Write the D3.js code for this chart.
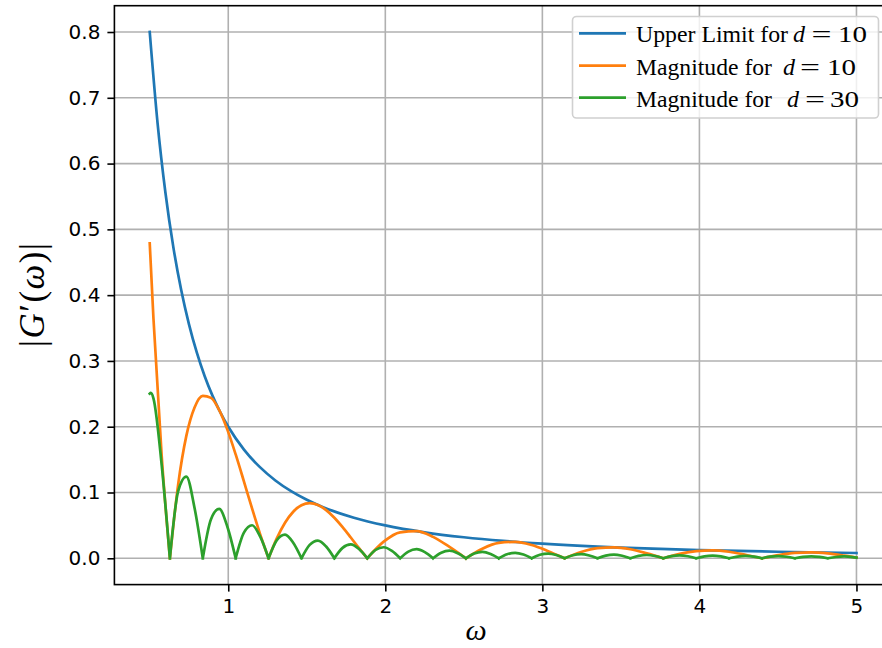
<!DOCTYPE html>
<html><head><meta charset="utf-8">
<script src="https://cdn.jsdelivr.net/npm/d3@7"></script>
<style>body{margin:0;background:#fff} text{white-space:pre}</style>
</head><body>
<svg id="c" width="882" height="648"></svg>
<script>
// ---- data ----
const xTicks = [1, 2, 3, 4, 5];
const yTicks = [0.0, 0.1, 0.2, 0.3, 0.4, 0.5, 0.6, 0.7, 0.8];
const seriesLabels = [
  ["Upper Limit for", "d", "=", "10"],
  ["Magnitude for", "d", "=", "10"],
  ["Magnitude for", "d", "=", "30"]
];
const seriesColors = ["#1f77b4", "#ff7f0e", "#2ca02c"];

const upperX = [0.5,0.55,0.6,0.65,0.7,0.75,0.8,0.85,0.9,0.95,1.0,1.1,1.2,1.3,1.4,1.5,1.6,1.8,2.0,2.25,2.5,2.75,3.0,3.5,4.0,4.5,5.0];
const upperY = [0.8,0.6612,0.5556,0.4734,0.4082,0.3556,0.3125,0.2768,0.2469,0.2216,0.2,0.1653,0.1389,0.1183,0.1020,0.0889,0.0781,0.0617,0.05,0.0395,0.032,0.0264,0.0222,0.0163,0.0125,0.0099,0.008];

const mag10X = [0.5,0.5236,0.5760,0.6283,0.6807,0.7330,0.7854,0.8378,0.8901,0.9425,0.9948,1.0472,1.0996,1.1519,1.2043,1.2566,
  1.3090,1.3614,1.4137,1.4661,1.5184,1.5708,1.6232,1.6755,1.7279,1.7802,1.8326,1.8850,
  1.9897,2.0944,2.1991,2.3038,2.4086,2.5133,2.6180,2.7227,2.8274,2.9322,3.0369,3.1416,
  3.2463,3.3510,3.4558,3.5605,3.6652,3.7699,3.8746,3.9794,4.0841,4.1888,4.2935,4.3982,
  4.5029,4.6077,4.7124,4.8171,4.9218,5.0];
const mag10Y = [0.4788,0.3648,0.1560,0,0.1117,0.1861,0.2293,0.2468,0.2438,0.2252,0.1952,0.1579,0.1170,0.0754,0.0357,0,
  0.0302,0.0540,0.0708,0.0806,0.0838,0.0811,0.0733,0.0617,0.0474,0.0316,0.0154,0,
  0.0253,0.0395,0.0414,0.0326,0.0172,0,0.0146,0.0234,0.0250,0.0201,0.0108,0,
  0.0095,0.0154,0.0167,0.0137,0.0074,0,0.0067,0.0109,0.0120,0.0099,0.0054,0,
  0.0049,0.0082,0.0090,0.0075,0.0041,0.0011];

const mag30X = [0.5,0.507,0.5236,0.5760,0.6283,0.6807,0.7330,0.7854,0.8378,0.8901,0.9425,0.9948,1.0472,1.0996,1.1519,1.2043,1.2566,
  1.3090,1.3614,1.4137,1.4661,1.5184,1.5708,1.6232,1.6755,1.7279,1.7802,1.8326,1.8850,1.9373,1.9897,2.0420,2.0944,
  2.1468,2.1991,2.2515,2.3038,2.3562,2.4086,2.4609,2.5133,2.5656,2.6180,2.6704,2.7227,2.7751,2.8274,2.8798,2.9322,
  2.9845,3.0369,3.0892,3.1416,3.1940,3.2463,3.2987,3.3510,3.4034,3.4558,3.5081,3.5605,3.6128,3.6652,3.7176,3.7699,
  3.8223,3.8746,3.9270,3.9794,4.0317,4.0841,4.1364,4.1888,4.2412,4.2935,4.3459,4.3982,4.4506,4.5029,4.5553,4.6077,
  4.6600,4.7124,4.7648,4.8171,4.8695,4.9218,4.9742,5.0];
const mag30Y = [0.2502,0.2514,0.2432,0.1421,0,0.1017,0.1241,0.0764,0,0.0595,0.0751,0.0476,0,0.0390,0.0502,0.0325,0,
  0.0275,0.0360,0.0236,0,0.0204,0.0270,0.0179,0,0.0158,0.0210,0.0140,0,0.0126,0.0168,0.0113,0,
  0.0102,0.0138,0.0093,0,0.0085,0.0115,0.0078,0,0.0072,0.0097,0.0066,0,0.0061,0.0083,0.0057,0,
  0.0053,0.0072,0.0049,0,0.0046,0.0063,0.0043,0,0.0041,0.0056,0.0038,0,0.0036,0.0050,0.0034,0,
  0.0032,0.0044,0.0031,0,0.0029,0.0040,0.0028,0,0.0026,0.0036,0.0025,0,0.0024,0.0033,0.0023,0,
  0.0022,0.0030,0.0021,0,0.0020,0.0028,0.0019,0.0010];

// ---- layout ----
const svg = d3.select("#c");
const L = 114.4, R = 891.8, T = 5.7, B = 584.6;
const x = d3.scaleLinear().domain([0.275, 5.225]).range([L, R]);
const y = d3.scaleLinear().domain([-0.04, 0.84]).range([B, T]);

svg.append("defs").append("clipPath").attr("id","clip")
  .append("rect").attr("x",L).attr("y",T).attr("width",R-L).attr("height",B-T);

// grid
const grid = svg.append("g");
grid.selectAll("line.gx").data(xTicks).join("line").attr("class","gx")
  .attr("x1",d=>x(d)).attr("x2",d=>x(d)).attr("y1",T).attr("y2",B)
  .attr("stroke","#b0b0b0").attr("stroke-width",1.6);
grid.selectAll("line.gy").data(yTicks).join("line").attr("class","gy")
  .attr("y1",d=>y(d)).attr("y2",d=>y(d)).attr("x1",L).attr("x2",R)
  .attr("stroke","#b0b0b0").attr("stroke-width",1.6);

// lines
function segments(xs, ys) {
  const segs = []; let cur = [];
  xs.forEach((xv, i) => {
    cur.push([xv, ys[i]]);
    if (ys[i] === 0 && i > 0) { segs.push(cur); cur = [[xv, ys[i]]]; }
  });
  if (cur.length > 1) segs.push(cur);
  return segs;
}
const line = d3.line().x(d=>x(d[0])).y(d=>y(d[1])).curve(d3.curveMonotoneX);
const plot = svg.append("g").attr("clip-path","url(#clip)");
const series = [[upperX, upperY], [mag10X, mag10Y], [mag30X, mag30Y]];
series.forEach(([xs, ys], k) => {
  plot.append("path").attr("d", segments(xs, ys).map(s => line(s)).join(""))
    .attr("fill","none").attr("stroke",seriesColors[k]).attr("stroke-width",2.7)
    .attr("stroke-linejoin","round").attr("stroke-linecap","square");
});

// axes
const xAxis = d3.axisBottom(x).tickValues(xTicks).tickFormat(d3.format("d")).tickSize(7).tickPadding(7);
const yAxis = d3.axisLeft(y).tickValues(yTicks).tickFormat(d3.format(".1f")).tickSize(7).tickPadding(7);
const gx = svg.append("g").attr("transform",`translate(0,${B})`).call(xAxis);
const gy = svg.append("g").attr("transform",`translate(${L},0)`).call(yAxis);
[gx, gy].forEach(g => {
  g.select(".domain").remove();
  g.selectAll(".tick line").attr("stroke","#000").attr("stroke-width",1.6);
  g.selectAll(".tick text").attr("fill","#000").style("font-family","DejaVu Sans").style("font-size","20px");
});
// spines
svg.append("rect").attr("x",L).attr("y",T).attr("width",R-L).attr("height",B-T)
  .attr("fill","none").attr("stroke","#000").attr("stroke-width",1.6);

// axis labels
svg.append("text").attr("x",476).attr("y",640).attr("text-anchor","middle")
  .style("font-family","Liberation Serif").style("font-size","30px").style("font-style","italic").text("ω");
const yl = svg.append("text").attr("transform","translate(44,295) rotate(-90)").attr("text-anchor","middle")
  .attr("textLength",104).attr("lengthAdjust","spacing")
  .style("font-family","Liberation Serif").style("font-size","35px");
yl.append("tspan").text("|");
yl.append("tspan").style("font-style","italic").text("G");
yl.append("tspan").text("′(");
yl.append("tspan").style("font-style","italic").text("ω");
yl.append("tspan").text(")|");

// legend
const lg = svg.append("g");
lg.append("rect").attr("x",572.5).attr("y",16.5).attr("width",306).attr("height",101.5).attr("rx",4)
  .attr("fill","#fff").attr("fill-opacity",0.8).attr("stroke","#d0d0d0").attr("stroke-width",1.6);
const rowY = [33.3, 65.7, 97.7];
// horizontal text anchors per row: [word start, d, "=", number]
const rowXs = [[636, 793, 811.5, 838], [636, 783, 800, 827], [636, 787, 805, 830]];
seriesLabels.forEach((lab, k) => {
  lg.append("line").attr("x1",579).attr("x2",626).attr("y1",rowY[k]).attr("y2",rowY[k])
    .attr("stroke",seriesColors[k]).attr("stroke-width",2.7);
  const t = lg.append("text").attr("y",rowY[k]+8.8)
    .style("font-family","Liberation Serif").style("font-size","24px");
  const xs = rowXs[k];
  t.append("tspan").attr("x",xs[0]).attr("textLength",k===0?152:136).attr("lengthAdjust","spacingAndGlyphs").text(lab[0]);
  t.append("tspan").attr("x",xs[1]).style("font-style","italic").text(lab[1]);
  t.append("tspan").attr("x",xs[2]).attr("textLength",20).attr("lengthAdjust","spacingAndGlyphs").text(lab[2]);
  t.append("tspan").attr("x",xs[3]).attr("textLength",29).attr("lengthAdjust","spacingAndGlyphs").text(lab[3]);
});
</script>
</body></html>
